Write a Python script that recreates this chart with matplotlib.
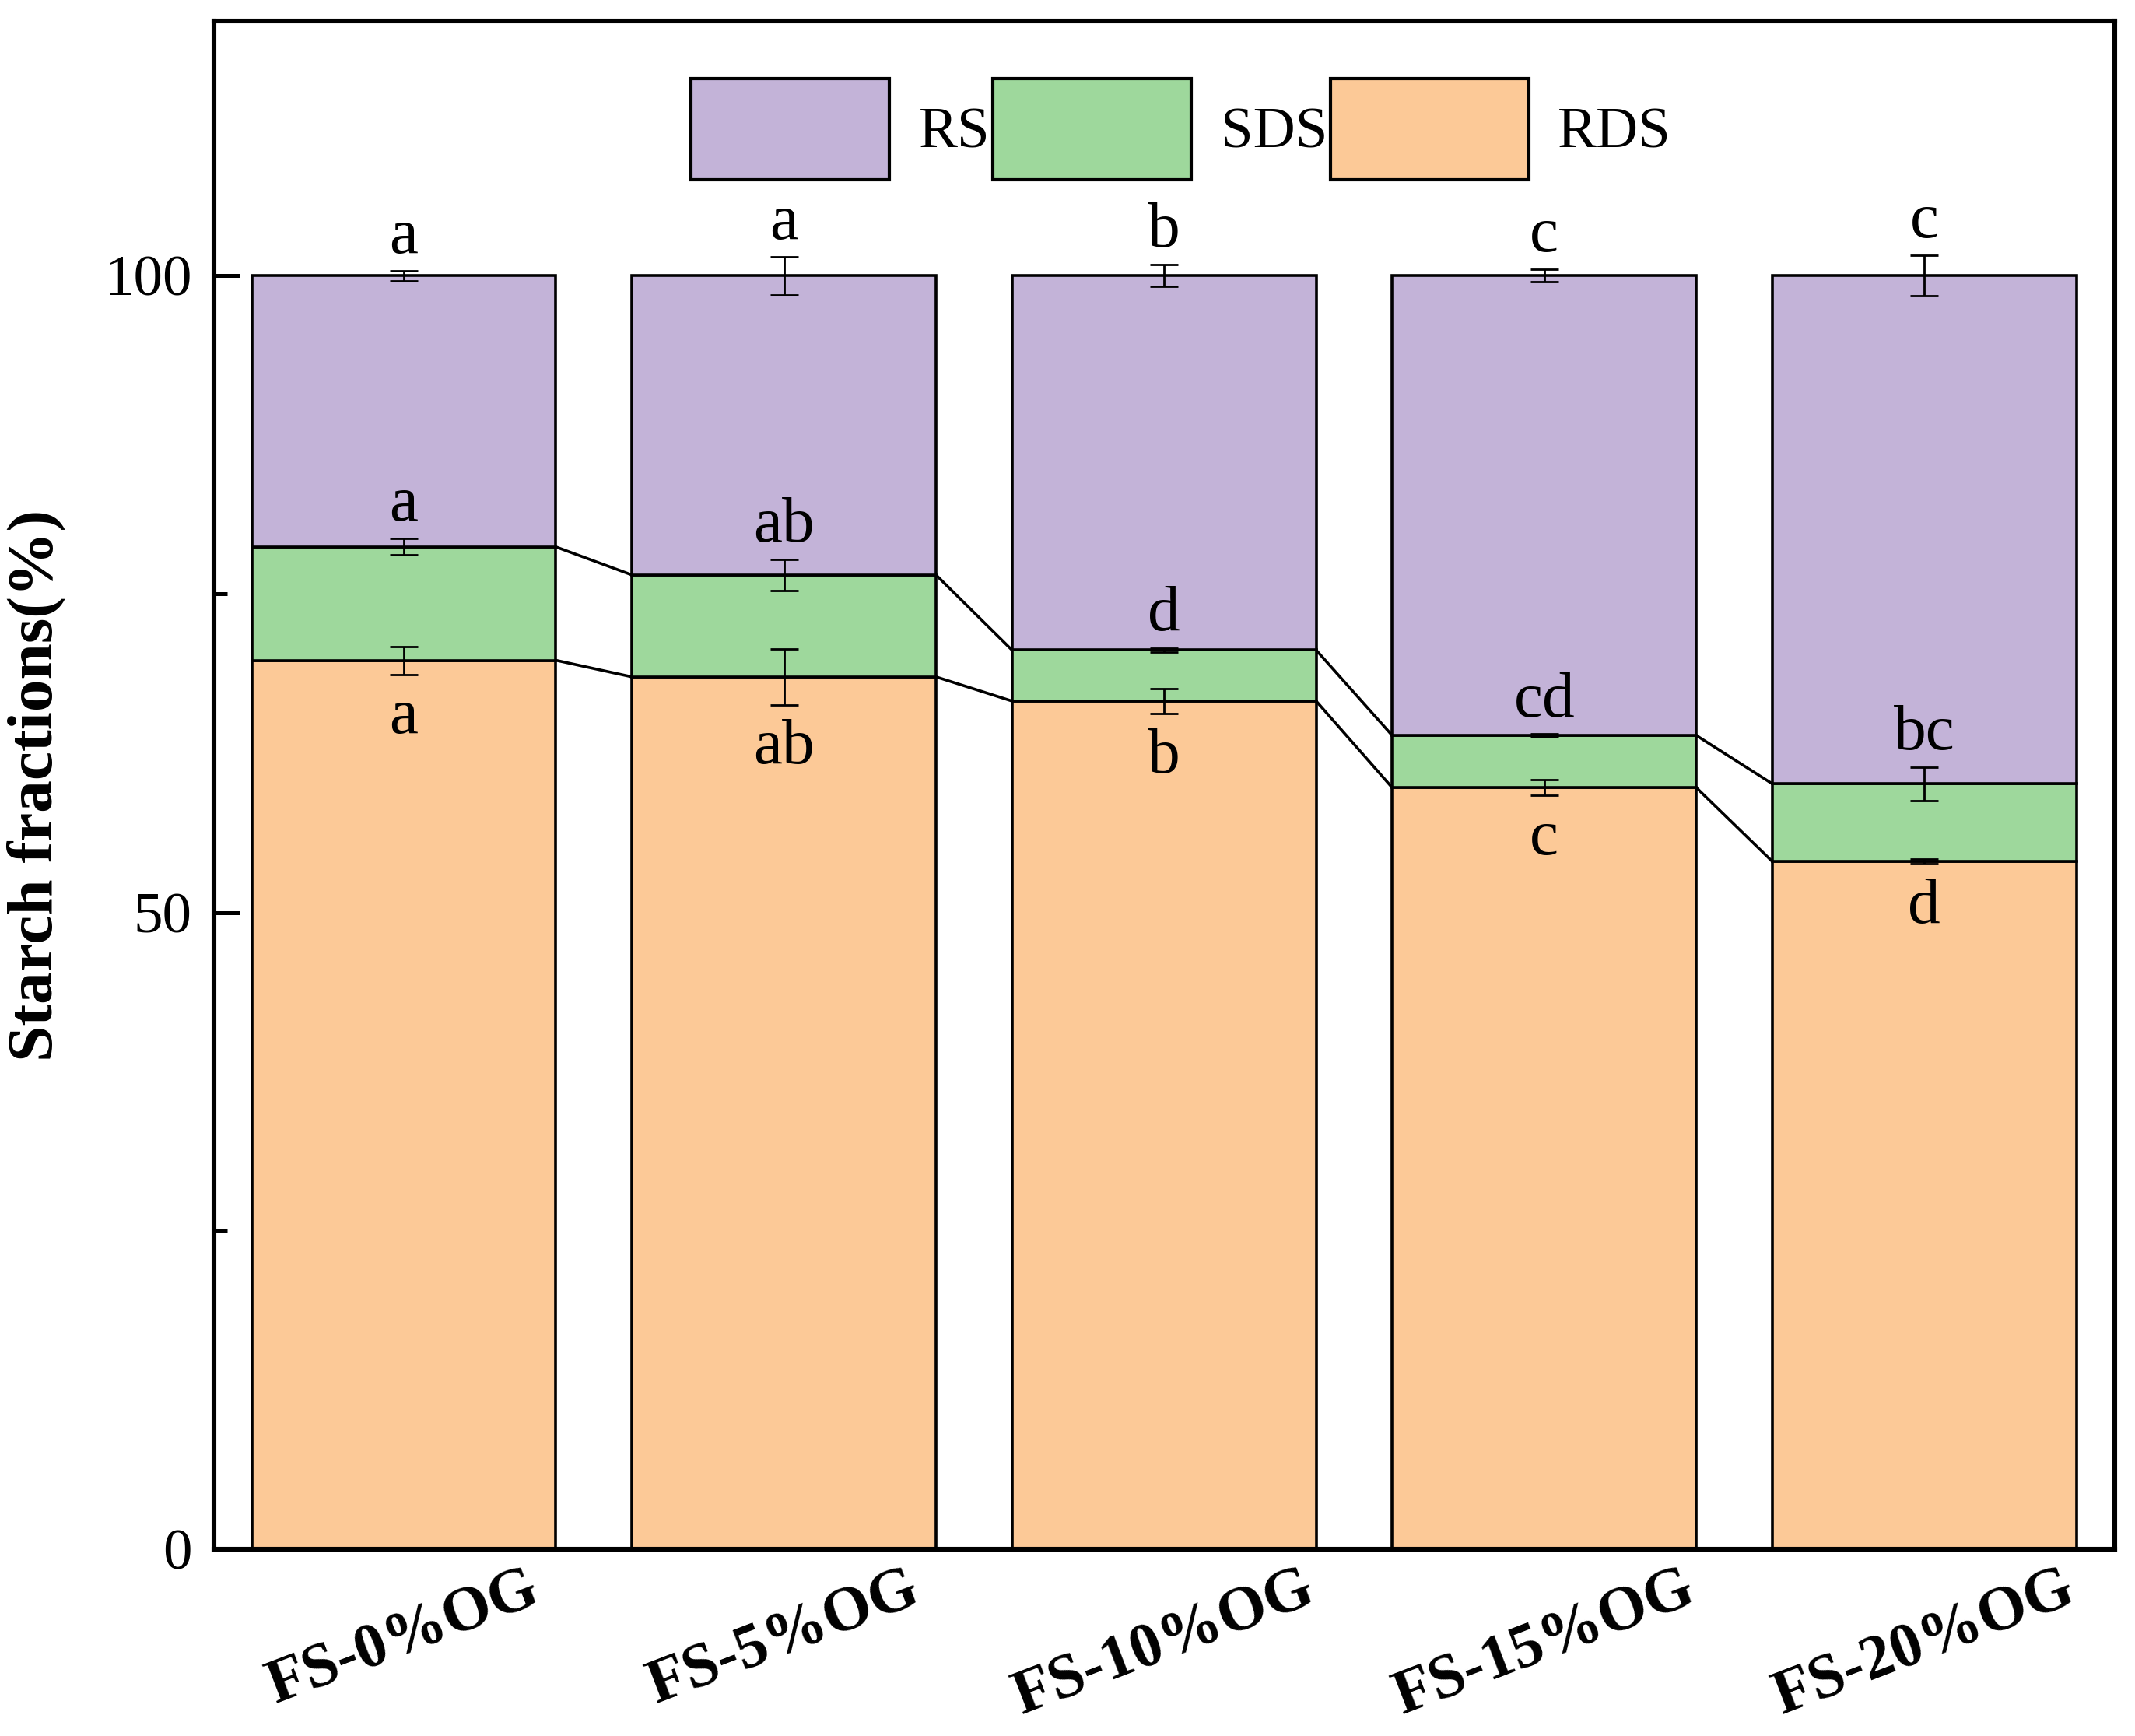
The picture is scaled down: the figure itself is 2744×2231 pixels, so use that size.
import matplotlib.pyplot as plt
import numpy as np
from matplotlib.patches import Patch
from matplotlib.ticker import MultipleLocator

plt.rcParams['font.family'] = ['Liberation Serif', 'DejaVu Serif']

# Data
samples = ['FS-0%OG', 'FS-5%OG', 'FS-10%OG', 'FS-15%OG', 'FS-20%OG']
rds = [69.8, 68.5, 66.6, 59.8, 54.0]
sds = [8.9, 8.0, 4.0, 4.1, 6.1]
rs = [21.3, 23.5, 29.4, 36.1, 39.9]
rds_err = [1.1, 2.2, 1.0, 0.6, 0.2]
sds_err = [0.65, 1.2, 0.15, 0.1, 1.3]
rs_err = [0.4, 1.5, 0.85, 0.5, 1.6]
rds_letters = ['a', 'ab', 'b', 'c', 'd']
sds_letters = ['a', 'ab', 'd', 'cd', 'bc']
rs_letters = ['a', 'a', 'b', 'c', 'c']

c_rs = '#C3B3D8'
c_sds = '#9ED89C'
c_rds = '#FCC997'

x = np.arange(len(samples))
w = 0.8
rds = np.array(rds)
sds = np.array(sds)
rs = np.array(rs)
top_sds = rds + sds
top_rs = top_sds + rs

fig = plt.figure(figsize=(13.72, 11.155), dpi=200)
ax = fig.add_axes([0.1001, 0.1075, 0.8903, 0.8805])

ax.bar(x, rds, w, color=c_rds, edgecolor='black', linewidth=1.3, zorder=2)
ax.bar(x, sds, w, bottom=rds, color=c_sds, edgecolor='black', linewidth=1.3, zorder=2)
ax.bar(x, rs, w, bottom=top_sds, color=c_rs, edgecolor='black', linewidth=1.3, zorder=2)

ekw = dict(fmt='none', ecolor='black', elinewidth=1.0, capsize=6.5, capthick=1.0, zorder=3)
ax.errorbar(x, rds, yerr=rds_err, **ekw)
ax.errorbar(x, top_sds, yerr=sds_err, **ekw)
ax.errorbar(x, top_rs, yerr=rs_err, **ekw)

# connecting lines between bars
for i in range(len(x) - 1):
    ax.plot([x[i] + w / 2, x[i + 1] - w / 2], [rds[i], rds[i + 1]], color='black', lw=1.3, zorder=1)
    ax.plot([x[i] + w / 2, x[i + 1] - w / 2], [top_sds[i], top_sds[i + 1]], color='black', lw=1.3, zorder=1)

fs_let = 30
for i in range(len(x)):
    ax.text(x[i], top_rs[i] + rs_err[i] + 0.3, rs_letters[i], ha='center', va='bottom', fontsize=fs_let, zorder=4)
    ax.text(x[i], top_sds[i] + sds_err[i] + 0.3, sds_letters[i], ha='center', va='bottom', fontsize=fs_let, zorder=4)
    ax.text(x[i], rds[i] - rds_err[i] - 1.1, rds_letters[i], ha='center', va='top', fontsize=fs_let, zorder=4)

ax.set_xlim(-0.5, 4.5)
ax.set_ylim(0, 120)
ax.set_yticks([0, 50, 100])
ax.yaxis.set_minor_locator(MultipleLocator(25))
ax.tick_params(axis='y', which='major', direction='in', length=12, width=1.8, labelsize=27, pad=10)
ax.tick_params(axis='y', which='minor', direction='in', length=6, width=1.8)
ax.tick_params(axis='x', which='both', length=0, pad=5)
ax.set_xticks(x)
ax.set_xticklabels(samples, rotation=21, fontsize=29, fontweight='bold', ha='center')
ax.set_ylabel('Starch fractions(%)', fontsize=30, fontweight='bold', labelpad=18)
for s in ax.spines.values():
    s.set_linewidth(2.2)

handles = [Patch(facecolor=c_rs, edgecolor='black', linewidth=1.5),
           Patch(facecolor=c_sds, edgecolor='black', linewidth=1.5),
           Patch(facecolor=c_rds, edgecolor='black', linewidth=1.5)]
ax.legend(handles, ['RS', 'SDS', 'RDS'], ncol=3, loc='center', bbox_to_anchor=(0.509, 0.929),
          frameon=False, fontsize=27, handlelength=3.4, handleheight=2.3,
          handletextpad=0.5, columnspacing=0.05, borderpad=0)

fig.savefig('out.png', dpi=200)
